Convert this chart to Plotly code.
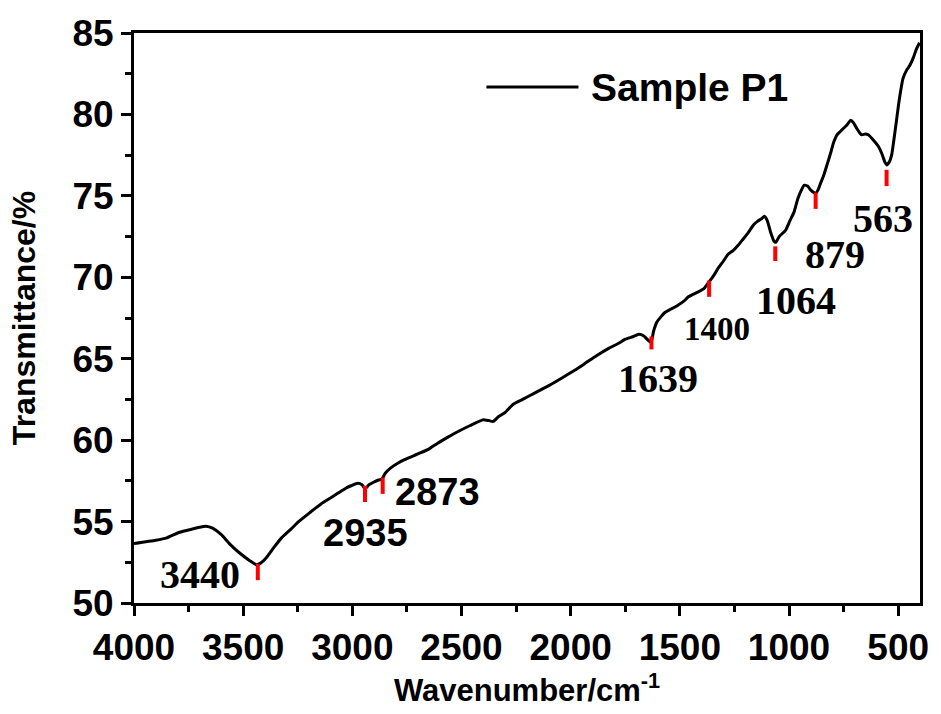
import plotly.graph_objects as go

# FTIR spectrum (wavenumber in cm-1, transmittance in %)
wavenumber = [4000, 3900, 3850, 3800, 3760, 3700, 3670, 3640, 3600, 3560, 3519, 3470, 3440, 3420, 3396,
              3360, 3324, 3280, 3246, 3190, 3142, 3100, 3065, 3030, 3006, 2975, 2955, 2942, 2925, 2905,
              2880, 2865, 2850, 2824, 2790, 2761, 2700, 2650, 2611, 2560, 2520, 2460, 2400, 2375, 2355,
              2330, 2300, 2263, 2220, 2157, 2100, 2036, 1980, 1930, 1880, 1824, 1780, 1749, 1715, 1688,
              1665, 1650, 1632, 1620, 1605, 1585, 1567, 1540, 1507, 1480, 1461, 1440, 1416, 1390, 1370,
              1345, 1325, 1300, 1280, 1255, 1234, 1210, 1189, 1160, 1143, 1125, 1113, 1100, 1085, 1068,
              1060, 1045, 1015, 995, 977, 960, 945, 931, 915, 900, 886, 878, 866, 856, 840,
              826, 810, 795, 780, 765, 750, 735, 717, 705, 690, 675, 667, 650, 637, 615,
              591, 575, 560, 553, 540, 530, 520, 508, 495, 478, 460, 447, 430, 417, 402]
transmittance = [53.65, 53.85, 54.0, 54.3, 54.45, 54.65, 54.72, 54.6, 54.2, 53.6, 53.1, 52.6, 52.35, 52.45, 52.75,
                 53.4, 54.0, 54.55, 55.0, 55.6, 56.1, 56.45, 56.75, 57.05, 57.2, 57.35, 57.25, 57.0, 57.25, 57.4,
                 57.55, 57.6, 57.95, 58.3, 58.6, 58.8, 59.15, 59.45, 59.8, 60.2, 60.5, 60.9, 61.25, 61.2, 61.15,
                 61.45, 61.7, 62.2, 62.5, 62.95, 63.35, 63.85, 64.3, 64.75, 65.2, 65.65, 65.95, 66.2, 66.35, 66.5,
                 66.4, 66.2, 66.0, 66.7, 67.25, 67.6, 67.85, 68.05, 68.3, 68.55, 68.8, 68.95, 69.1, 69.3, 69.65,
                 70.1, 70.55, 71.0, 71.4, 71.65, 71.95, 72.35, 72.7, 73.25, 73.45, 73.6, 73.75, 73.5, 72.8, 72.2,
                 72.15, 72.5, 72.9, 73.5, 74.0, 74.8, 75.3, 75.65, 75.6, 75.35, 75.2, 75.15, 75.4, 75.75, 76.3,
                 76.9, 77.6, 78.3, 78.75, 78.95, 79.15, 79.35, 79.65, 79.5, 79.15, 78.85, 78.75, 78.8, 78.75, 78.45,
                 78.05, 77.6, 77.05, 76.9, 77.1, 77.5, 78.4, 79.6, 80.9, 82.2, 82.75, 83.0, 83.5, 84.0, 84.4]

# Peak markers (red ticks) and their labels
peak_pos = [3433, 2942, 2861, 1630, 1366, 1063, 878, 553]
peak_top = [52.4, 57.2, 57.7, 66.37, 69.8, 71.9, 75.2, 76.6]
peak_bottom = [51.4, 56.2, 56.7, 65.57, 68.8, 71.0, 74.2, 75.6]

label_text = ["3440", "2935", "2873", "1639", "1400", "1064", "879", "563"]
label_x = [3696, 2938, 2611, 1599, 1331, 968, 791, 568]
label_y = [51.75, 54.3, 56.8, 63.8, 66.8, 68.6, 71.4, 73.6]
label_serif = [True, False, False, True, True, True, True, True]
label_size = [40, 38, 38, 40, 33, 40, 40, 40]

x_ticks = [4000, 3500, 3000, 2500, 2000, 1500, 1000, 500]
y_ticks = [50, 55, 60, 65, 70, 75, 80, 85]

SANS = "Liberation Sans, Arial, sans-serif"
SERIF = "Liberation Serif, Times New Roman, serif"

fig = go.Figure()
fig.add_trace(go.Scatter(x=wavenumber, y=transmittance, mode="lines",
                         line=dict(color="black", width=3, shape="spline", smoothing=0.5),
                         name="Sample P1", showlegend=False))

mx, my = [], []
for p, t, b in zip(peak_pos, peak_top, peak_bottom):
    mx += [p, p, None]
    my += [t, b, None]
fig.add_trace(go.Scatter(x=mx, y=my, mode="lines", line=dict(color="red", width=4),
                         showlegend=False, hoverinfo="skip"))

for txt, lx, ly, serif, sz in zip(label_text, label_x, label_y, label_serif, label_size):
    fig.add_annotation(x=lx, y=ly, text="<b>%s</b>" % txt, showarrow=False,
                       xanchor="center", yanchor="middle",
                       font=dict(family=SERIF if serif else SANS, size=sz, color="black"))

# Legend drawn manually (long sample line)
fig.add_shape(type="line", xref="paper", yref="paper", x0=(490 - 134) / 794, x1=(583 - 134) / 794,
              y0=(613 - 88) / 580, y1=(613 - 88) / 580, line=dict(color="black", width=3))
fig.add_annotation(xref="paper", yref="paper", x=(594 - 134) / 794, y=(613 - 88) / 580,
                   text="<b>Sample P1</b>", showarrow=False, xanchor="left", yanchor="middle",
                   font=dict(family=SANS, size=39, color="black"))

axis_common = dict(showline=True, linecolor="black", linewidth=3, mirror=True,
                   ticks="outside", ticklen=10, tickwidth=3, tickcolor="black",
                   showgrid=False, zeroline=False,
                   tickfont=dict(family=SANS, size=37, color="black", weight="bold"))

fig.update_xaxes(range=[4000, 400], tickvals=x_ticks,
                 minor=dict(ticks="outside", ticklen=6, tickwidth=3, tickcolor="black", dtick=250,
                            tick0=0, showgrid=False),
                 title=dict(text="<b>Wavenumber/cm<sup>-1</sup></b>", standoff=12,
                            font=dict(family=SANS, size=31, color="black")),
                 **axis_common)
fig.update_yaxes(range=[50, 85], tickvals=y_ticks,
                 minor=dict(ticks="outside", ticklen=6, tickwidth=3, tickcolor="black", dtick=2.5,
                            tick0=0, showgrid=False),
                 title=dict(text="<b>Transmittance/%</b>", standoff=28,
                            font=dict(family=SANS, size=32, color="black")),
                 **axis_common)

fig.update_layout(width=941, height=714, margin=dict(l=134, r=13, t=33, b=101),
                  plot_bgcolor="white", paper_bgcolor="white", showlegend=False)

# remove the default page margin so the figure sits at the window's top-left corner
fig.write_html("out.html", config={"displayModeBar": False},
               post_script="document.body.style.margin='0';document.body.style.overflow='hidden';")
